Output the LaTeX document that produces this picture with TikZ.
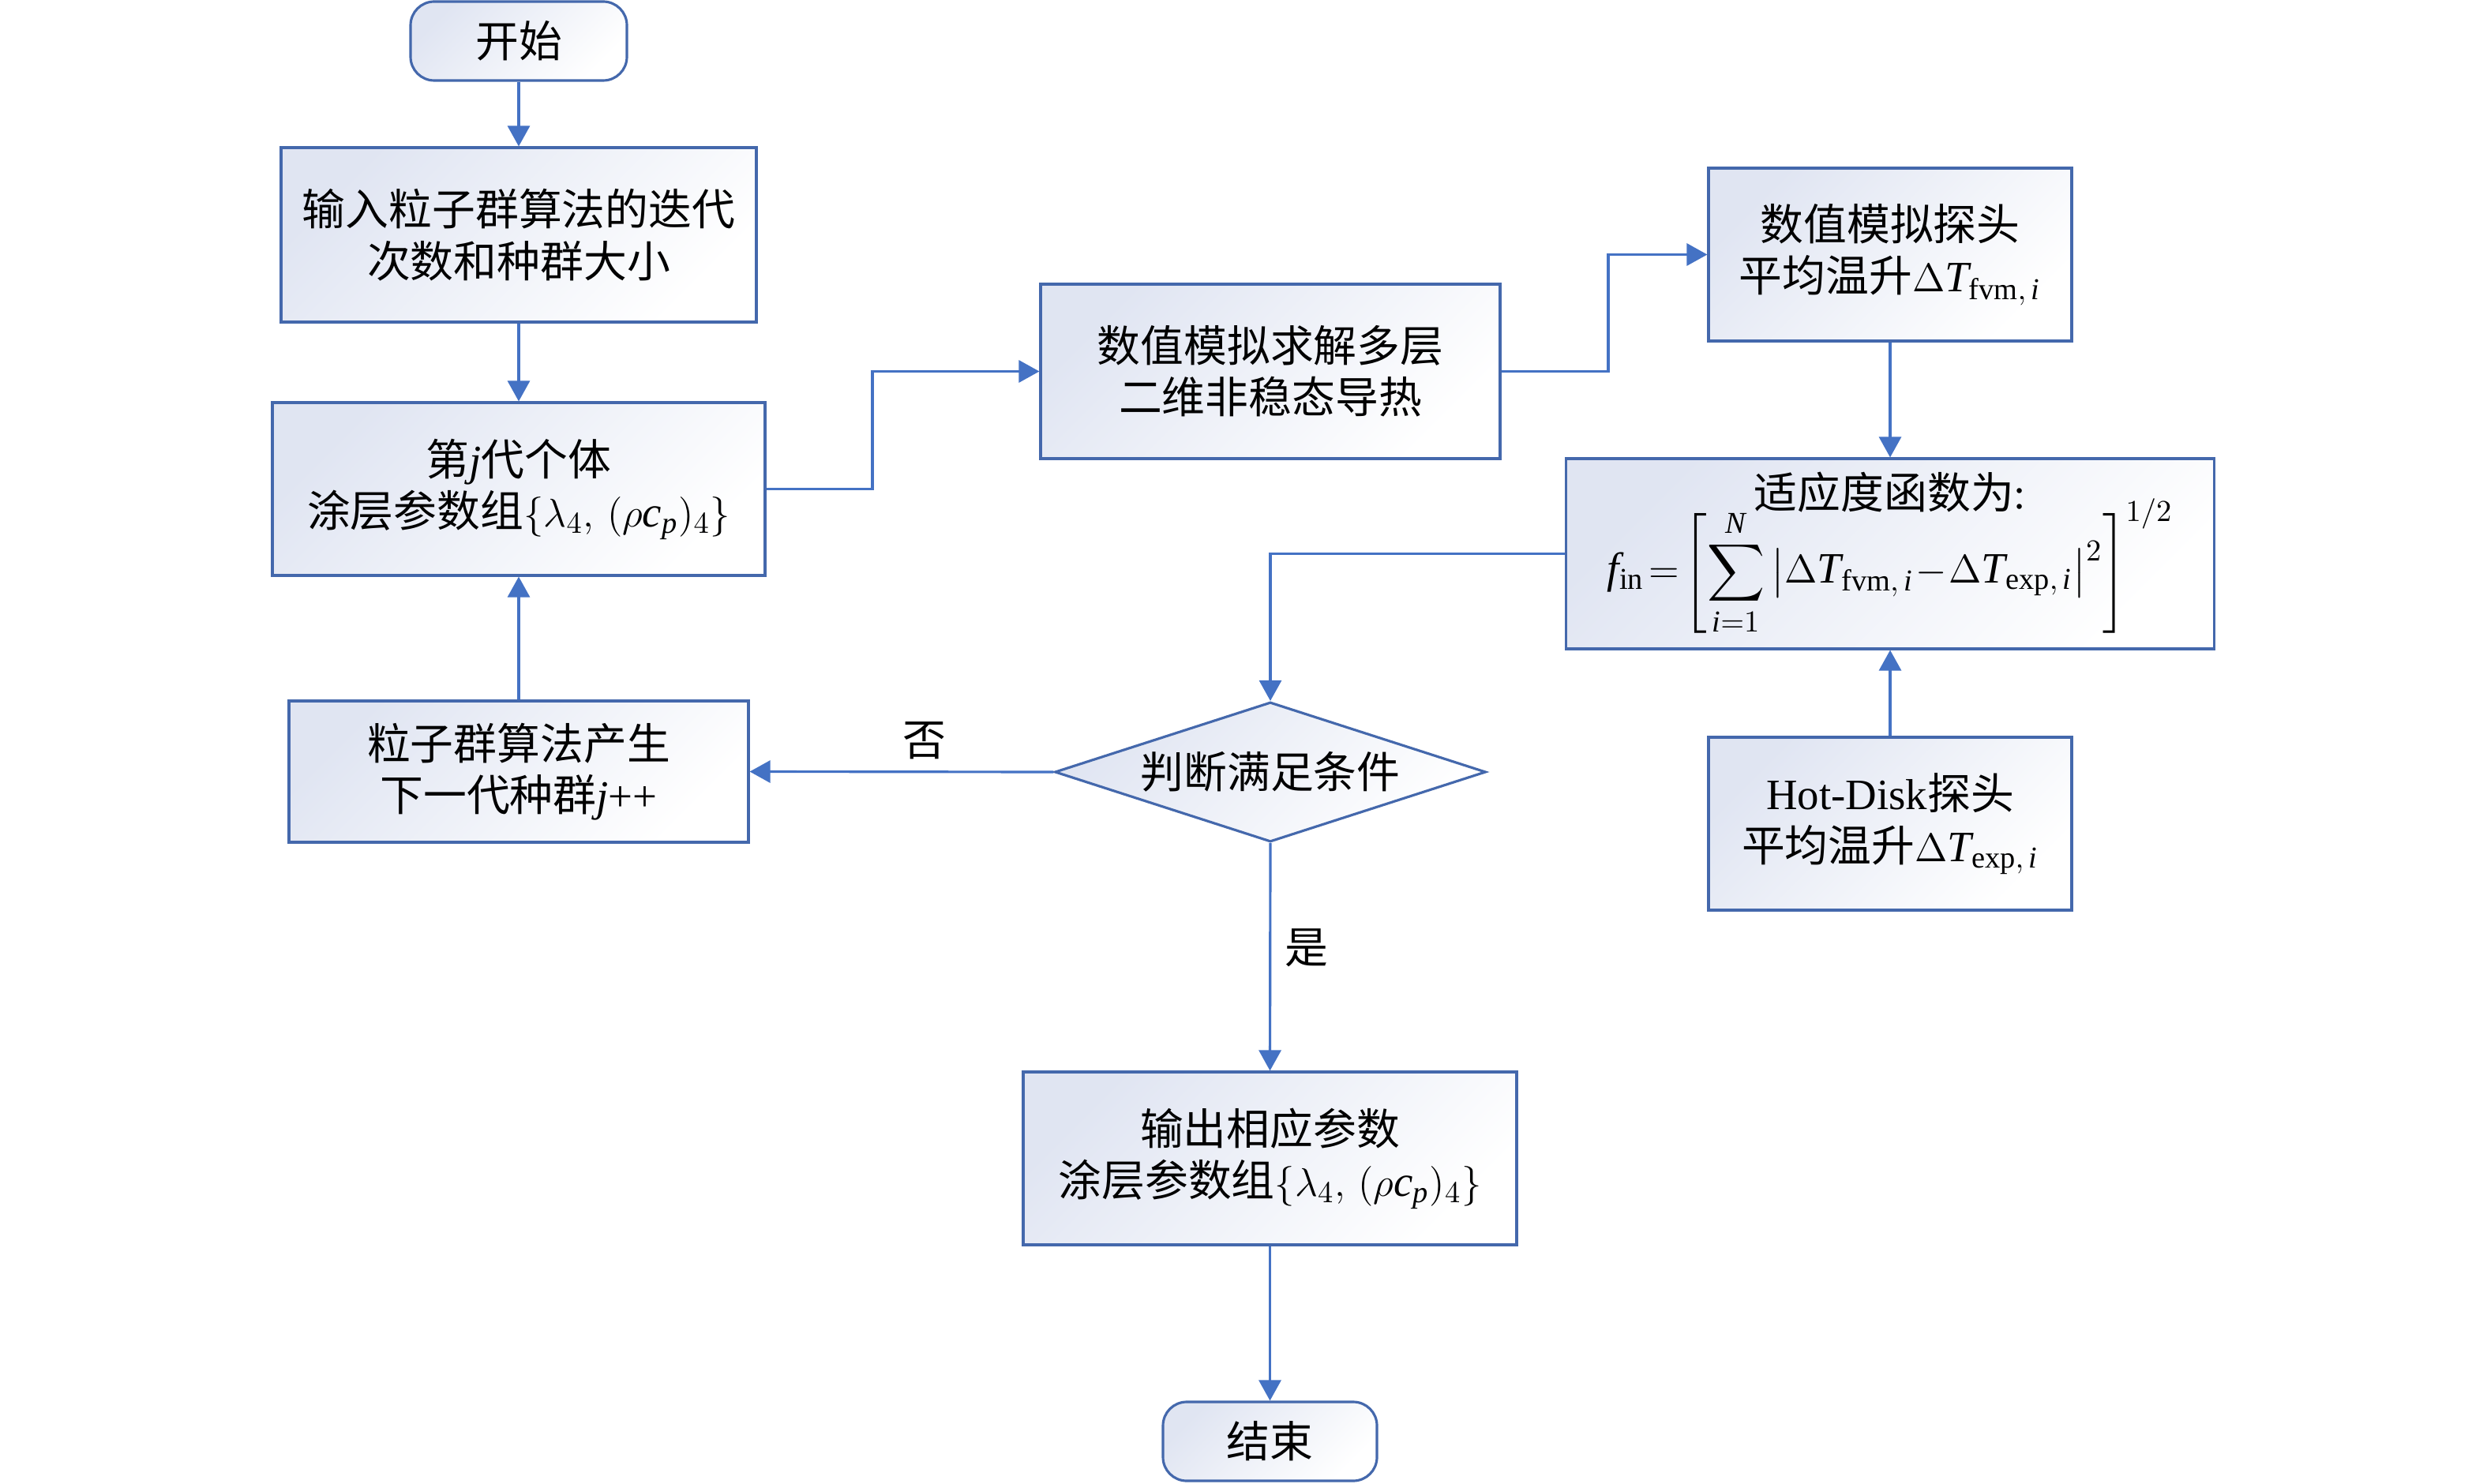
\documentclass[tikz,border=0pt]{standalone}
\usepackage{amsmath}
\usepackage{fontspec}
\setmainfont{Liberation Serif}
\newfontfamily\cjk{Noto Sans CJK SC}
\newfontfamily\lat{Liberation Serif}
\usetikzlibrary{shapes.geometric,arrows.meta}
\definecolor{edgec}{RGB}{68,104,172}
\definecolor{arrc}{RGB}{68,114,196}
\definecolor{shadeA}{RGB}{224,229,242}
\newcommand\myfs{\fontsize{15.6pt}{18.6pt}\selectfont}
\newcommand\mi[1]{\mathit{#1}}
\tikzset{
  box/.style={draw=edgec, line width=0.9pt, top color=shadeA, bottom color=white,
    shading angle=45, align=center, inner sep=0pt, font=\myfs\cjk},
  termbox/.style={box, rounded corners=3mm},
  decbox/.style={box, diamond, aspect=3.08},
  conn/.style={draw=arrc, line width=0.9pt, -{Triangle[length=2.6mm,width=2.8mm]}},
  lbl/.style={font=\myfs\cjk, inner sep=1pt}
}
\begin{document}
\begin{tikzpicture}
\useasboundingbox (0,0) rectangle (31.5,-18.8);
\node[termbox, minimum width=2.74cm, minimum height=1.0cm] (start) at (6.57,-0.52) {开始};
\node[box, minimum width=6.02cm, minimum height=2.21cm] (b1) at (6.57,-2.975) {输入粒子群算法的迭代\\次数和种群大小};
\node[box, minimum width=6.24cm, minimum height=2.19cm] (b2) at (6.57,-6.195) {第$\mi{j}$代个体\\涂层参数组$\{\lambda_4,\,(\rho \mi{c}_{\mi{p}})_4\}$};
\node[box, minimum width=5.82cm, minimum height=1.79cm] (b3) at (6.57,-9.775) {粒子群算法产生\\下一代种群$\mi{j}${\lat ++}};
\node[box, minimum width=5.82cm, minimum height=2.21cm] (b4) at (16.09,-4.705) {数值模拟求解多层\\二维非稳态导热};
\node[box, minimum width=4.60cm, minimum height=2.19cm] (b5) at (23.94,-3.225) {数值模拟探头\\平均温升$\Delta \mi{T}_{\mathrm{fvm},\,\mi{i}}$};
\node[box, minimum width=8.21cm, minimum height=2.41cm] (b6) at (23.94,-7.015) {适应度函数为{\lat :}\\[-6pt]
  $\displaystyle \mi{f}_{\mathrm{in}}\!=\!\left[\sum_{\mi{i}=1}^{\mi{N}}\left|\Delta \mi{T}_{\mathrm{fvm},\,\mi{i}}\!-\!\Delta \mi{T}_{\mathrm{exp},\,\mi{i}}\right|^{2}\right]^{1/2}$};
\node[box, minimum width=4.60cm, minimum height=2.19cm] (b7) at (23.94,-10.435) {{\lat Hot-Disk}探头\\平均温升$\Delta \mi{T}_{\mathrm{exp},\,\mi{i}}$};
\node[decbox, minimum width=5.46cm, minimum height=1.77cm] (dia) at (16.09,-9.78) {判断满足条件};
\node[box, minimum width=6.25cm, minimum height=2.19cm] (b8) at (16.085,-14.675) {输出相应参数\\涂层参数组$\{\lambda_4,\,(\rho \mi{c}_{\mi{p}})_4\}$};
\node[termbox, minimum width=2.71cm, minimum height=1.0cm] (end) at (16.085,-18.26) {结束};

\coordinate (k1) at (11.05,0);
\coordinate (k2) at (20.37,0);

\draw[conn] (start) -- (b1);
\draw[conn] (b1) -- (b2);
\draw[conn] (b3) -- (b2);
\draw[conn] (b2.east) -- (b2.east -| k1) -- (k1 |- b4.west) -- (b4.west);
\draw[conn] (b4.east) -- (b4.east -| k2) -- (k2 |- b5.west) -- (b5.west);
\draw[conn] (b5) -- (b6);
\draw[conn] (b7) -- (b6);
\draw[conn] (b6.west) -- (b6.west -| dia.north) -- (dia.north);
\draw[conn] (dia.west) -- node[lbl, pos=0.425, above=3pt] (no) {否} (b3.east);
\draw[conn] (dia.south) -- node[lbl, pos=0.462, right=4pt] (yes) {是} (b8.north);
\draw[conn] (b8) -- (end);
\end{tikzpicture}
\end{document}
